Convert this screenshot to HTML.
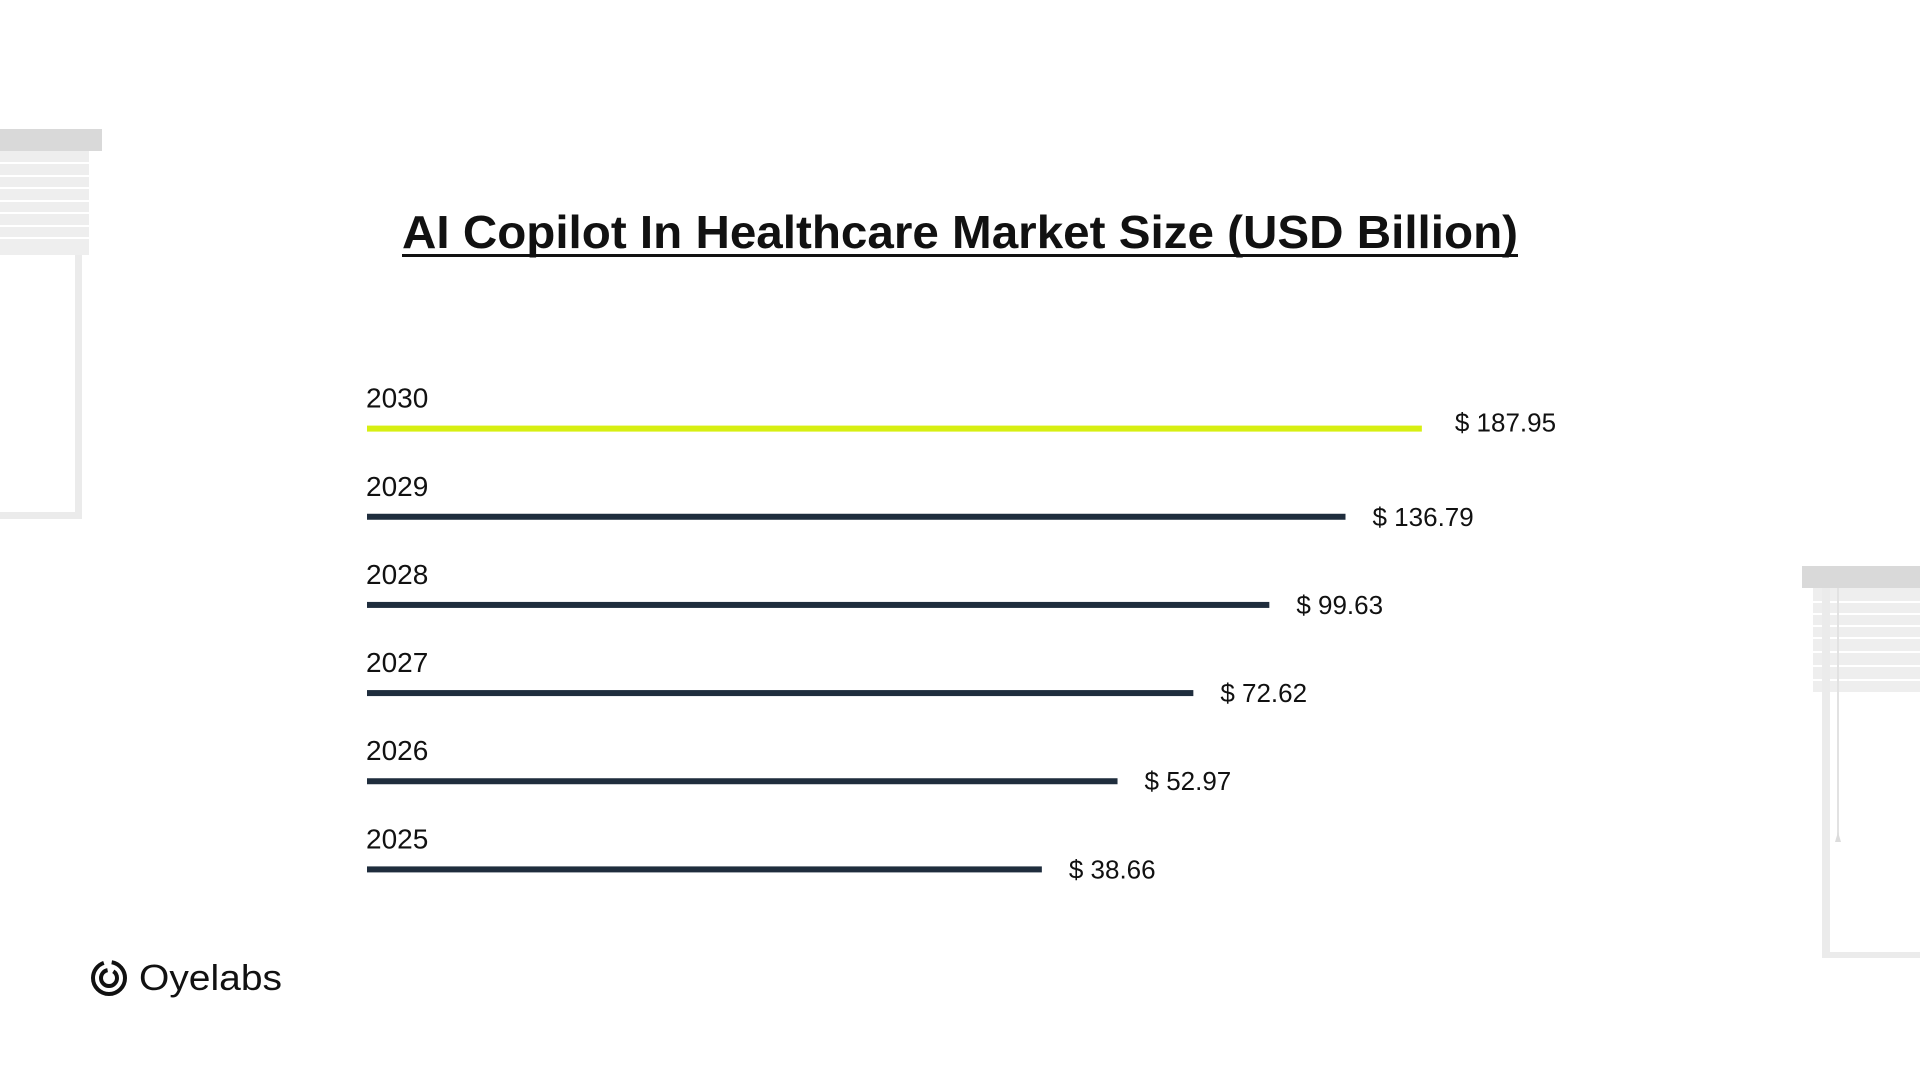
<!DOCTYPE html>
<html><head><meta charset="utf-8"><style>
html,body{margin:0;padding:0;background:#fff;}
svg{display:block;font-family:"Liberation Sans",sans-serif;}
</style></head><body>
<svg id="chart" width="1920" height="1080" viewBox="0 0 1920 1080">
  <g>
    <rect x="0" y="151" width="89" height="104" fill="#eeeeee"/>
    <g stroke="#ffffff" stroke-width="2">
      <line x1="0" y1="163" x2="89" y2="163"/><line x1="0" y1="176" x2="89" y2="176"/>
      <line x1="0" y1="188" x2="89" y2="188"/><line x1="0" y1="201" x2="89" y2="201"/>
      <line x1="0" y1="213" x2="89" y2="213"/><line x1="0" y1="226" x2="89" y2="226"/>
      <line x1="0" y1="238" x2="89" y2="238"/>
    </g>
    <rect x="0" y="129" width="102" height="22" fill="#d9d9d9"/>
    <rect x="75" y="255" width="7" height="264" fill="#ebebeb"/>
    <rect x="0" y="512" width="82" height="7" fill="#ebebeb"/>
  </g>
  <g>
    <rect x="1813" y="588" width="107" height="104" fill="#eeeeee"/>
    <g stroke="#ffffff" stroke-width="2">
      <line x1="1813" y1="602" x2="1920" y2="602"/><line x1="1813" y1="614" x2="1920" y2="614"/>
      <line x1="1813" y1="626" x2="1920" y2="626"/><line x1="1813" y1="638" x2="1920" y2="638"/>
      <line x1="1813" y1="652" x2="1920" y2="652"/><line x1="1813" y1="666" x2="1920" y2="666"/>
      <line x1="1813" y1="680" x2="1920" y2="680"/>
    </g>
    <rect x="1802" y="566" width="118" height="22" fill="#d9d9d9"/>
    <rect x="1822" y="588" width="8" height="370" fill="#ebebeb"/>
    <rect x="1822" y="952" width="98" height="6" fill="#ebebeb"/>
    <line x1="1838" y1="588" x2="1838" y2="840" stroke="#e2e2e2" stroke-width="2"/>
    <polygon points="1835,842 1841,842 1838,832" fill="#dcdcdc"/>
  </g>
  <text x="960" y="248" text-anchor="middle" font-size="46" font-weight="bold" fill="#111" textLength="1116" lengthAdjust="spacingAndGlyphs">AI Copilot In Healthcare Market Size (USD Billion)</text>
  <rect x="402" y="254" width="1116" height="3" fill="#111"/>
  <g id="bars"></g>
  <g>
    <circle cx="109" cy="978" r="16" fill="none" stroke="#111" stroke-width="4" stroke-dasharray="70 8"/>
    <circle cx="109" cy="978" r="8" fill="none" stroke="#111" stroke-width="4" stroke-dasharray="36 6"/>
    <text x="139" y="990" font-size="36" fill="#111" textLength="143" lengthAdjust="spacingAndGlyphs">Oyelabs</text>
  </g>
</svg>
<script>
const years = ["2030","2029","2028","2027","2026","2025"];
const values = [187.95,136.79,99.63,72.62,52.97,38.66];
const valueLabels = ["$ 187.95","$ 136.79","$ 99.63","$ 72.62","$ 52.97","$ 38.66"];
const colors = ["#d7ef12","#1f2d3d","#1f2d3d","#1f2d3d","#1f2d3d","#1f2d3d"];
const NS = "http://www.w3.org/2000/svg";
const x0 = 367;
function xLen(v){ return 240.3*Math.log(v) - 203.4; }
function yPos(i){ return 428.6 + i*88.16; }
const g = document.getElementById('bars');
years.forEach((yr,i)=>{
  const y = yPos(i), len = xLen(values[i]);
  const r = document.createElementNS(NS,'rect');
  r.setAttribute('x', x0); r.setAttribute('y', y-3);
  r.setAttribute('width', len); r.setAttribute('height', 6);
  r.setAttribute('fill', colors[i]);
  
  
  g.appendChild(r);
  const t = document.createElementNS(NS,'text');
  t.setAttribute('x', x0 - 1); t.setAttribute('y', y-21);
  t.setAttribute('font-size', 28); t.setAttribute('fill', '#111');
  t.textContent = yr;
  
  
  g.appendChild(t);
  const v = document.createElementNS(NS,'text');
  v.setAttribute('x', x0 + len + (i===0?33:27)); v.setAttribute('y', y + (i===0?3:9));
  v.setAttribute('font-size', 26); v.setAttribute('fill', '#111');
  v.textContent = valueLabels[i];
  
  
  g.appendChild(v);
});
</script>
</body></html>
